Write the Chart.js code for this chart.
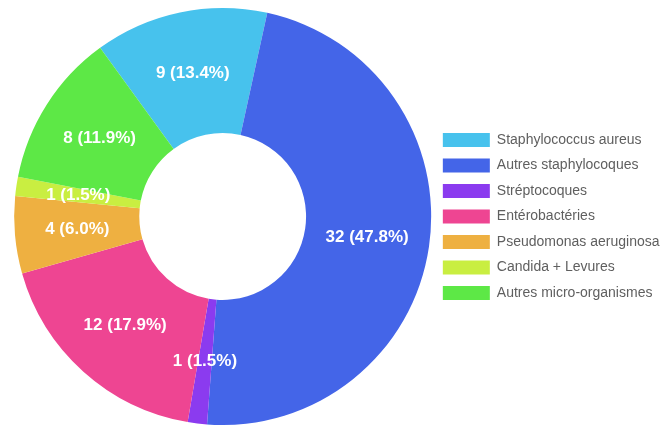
<!DOCTYPE html>
<html lang="fr">
<head>
<meta charset="utf-8">
<title>Répartition des micro-organismes</title>
<script src="https://cdn.jsdelivr.net/npm/chart.js@4.4.1/dist/chart.umd.min.js"></script>
<style>
  html, body { margin: 0; padding: 0; background: #ffffff; }
  #wrap { width: 672px; height: 425px; position: relative; }
</style>
</head>
<body>
<div id="wrap"><canvas id="chart"></canvas></div>
<script>
// Micro-organism categories and isolate counts
const categories = [
  'Staphylococcus aureus',
  'Autres staphylocoques',
  'Stréptocoques',
  'Entérobactéries',
  'Pseudomonas aeruginosa',
  'Candida + Levures',
  'Autres micro-organismes'
];
const counts = [9, 32, 1, 12, 4, 1, 8];
const sliceColors = [
  '#47C2ED',
  '#4465E8',
  '#8B3BEF',
  '#EE4592',
  '#EEB041',
  '#C9EE41',
  '#5DE846'
];

// Writes "count (percent%)" in the middle of every slice
const sliceLabels = {
  id: 'sliceLabels',
  afterDatasetsDraw(chart) {
    const ctx = chart.ctx;
    const meta = chart.getDatasetMeta(0);
    const values = chart.data.datasets[0].data;
    const total = values.reduce((a, b) => a + b, 0);
    ctx.save();
    ctx.font = 'bold 17px "Liberation Sans", Arial, sans-serif';
    ctx.fillStyle = '#ffffff';
    ctx.textAlign = 'center';
    ctx.textBaseline = 'middle';
    meta.data.forEach((arc, i) => {
      const p = arc.tooltipPosition();
      const pct = (values[i] / total * 100).toFixed(1);
      ctx.fillText(values[i] + ' (' + pct + '%)', p.x, p.y);
    });
    ctx.restore();
  }
};

new Chart(document.getElementById('chart'), {
  type: 'doughnut',
  data: {
    labels: categories,
    datasets: [{
      data: counts,
      backgroundColor: sliceColors,
      borderWidth: 0,
      hoverOffset: 0
    }]
  },
  options: {
    responsive: true,
    maintainAspectRatio: false,
    animation: false,
    rotation: -36,
    cutout: '40%',
    layout: { padding: { top: 8, bottom: 0, left: 14, right: 2.5 } },
    plugins: {
      legend: {
        position: 'right',
        align: 'center',
        labels: {
          boxWidth: 47,
          boxHeight: 14,
          padding: 11.5,
          color: '#5f5f5f',
          font: { family: '"Liberation Sans", Arial, sans-serif', size: 14 }
        }
      },
      tooltip: { enabled: false }
    }
  },
  plugins: [sliceLabels]
});
</script>
</body>
</html>
